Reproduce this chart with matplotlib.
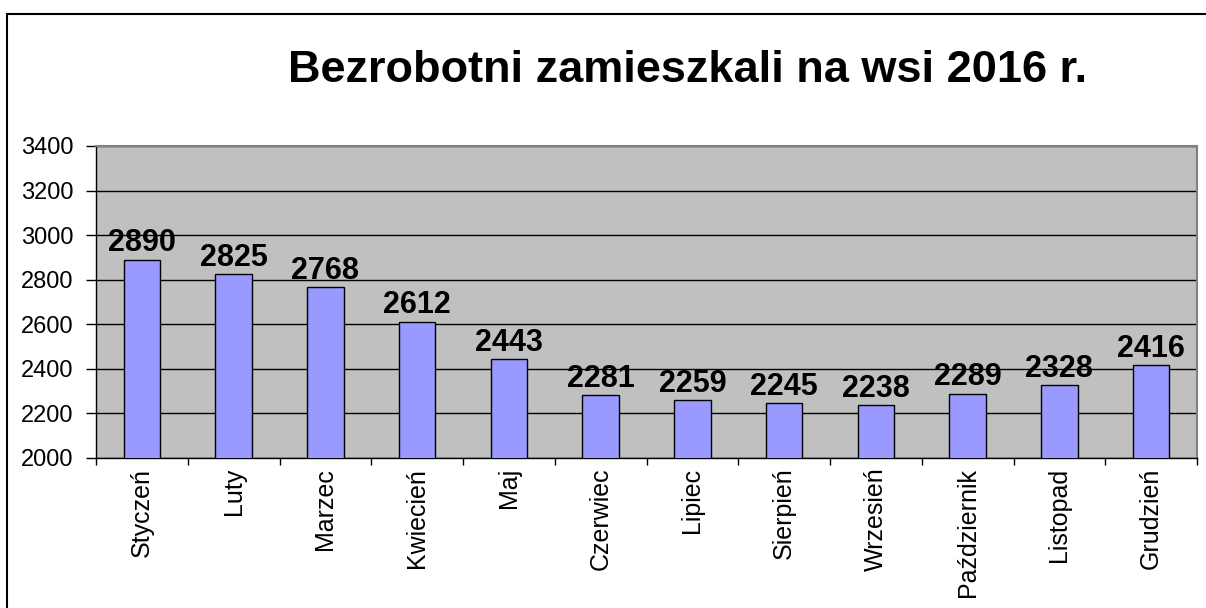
import matplotlib.pyplot as plt
import matplotlib.patches as patches
import numpy as np

# %% Data
months = ["Styczeń", "Luty", "Marzec", "Kwiecień", "Maj", "Czerwiec",
          "Lipiec", "Sierpień", "Wrzesień", "Październik", "Listopad", "Grudzień"]
unemployed = [2890, 2825, 2768, 2612, 2443, 2281, 2259, 2245, 2238, 2289, 2328, 2416]
y_ticks = [2000, 2200, 2400, 2600, 2800, 3000, 3200, 3400]

plt.rcParams["font.family"] = ["Liberation Sans", "DejaVu Sans"]

# %% Figure
fig = plt.figure(figsize=(12.06, 6.08), dpi=100)
ax = fig.add_axes([96 / 1206, 1 - 458 / 608, (1197 - 96) / 1206, (458 - 146) / 608])

x = np.arange(len(months))
bars = ax.bar(x, unemployed, width=0.4, color="#9999FF", edgecolor="black",
              linewidth=1, zorder=3)

for rect, val in zip(bars, unemployed):
    ax.annotate(str(val), (rect.get_x() + rect.get_width() / 2, val),
                xytext=(0, 6), textcoords="offset points",
                ha="center", va="baseline", fontsize=22, fontweight="bold", zorder=4)

ax.set_facecolor("#C0C0C0")
ax.set_xlim(-0.5, len(months) - 0.5)
ax.set_ylim(2000, 3400)
ax.set_yticks(y_ticks)
ax.yaxis.grid(True, color="black", linewidth=1, zorder=1)
ax.tick_params(axis="y", labelsize=17, length=7, width=1, pad=9, colors="black")

# category labels centred, ticks between categories
ax.set_xticks(x)
ax.set_xticklabels(months, rotation=90, fontsize=18)
ax.tick_params(axis="x", which="major", length=0, pad=7)
ax.set_xticks(np.arange(-0.5, len(months)), minor=True)
ax.tick_params(axis="x", which="minor", length=5, width=1)

for side in ["top", "right"]:
    ax.spines[side].set_color("#808080")
    ax.spines[side].set_linewidth(1.5)
for side in ["left", "bottom"]:
    ax.spines[side].set_color("black")
    ax.spines[side].set_linewidth(1)

fig.text(688 / 1206, 1 - 70 / 608, "Bezrobotni zamieszkali na wsi 2016 r.",
         ha="center", va="center", fontsize=32.5, fontweight="bold")

# chart area border
fig.patches.append(patches.Rectangle((7 / 1206, -0.5), 2, 0.5 + 1 - 14 / 608,
                                     transform=fig.transFigure, fill=False,
                                     edgecolor="black", linewidth=1.5))

fig.savefig("out.png", dpi=100)
